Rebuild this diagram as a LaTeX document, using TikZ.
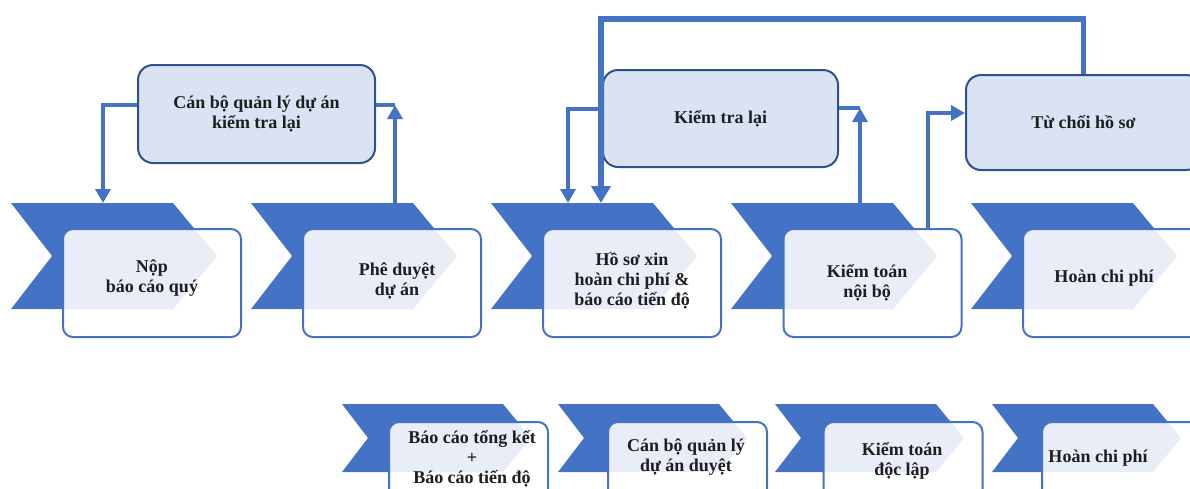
\documentclass[tikz,border=0pt]{standalone}
\usepackage{fontspec}
\setmainfont{Liberation Serif}
\usetikzlibrary{arrows.meta}
\definecolor{chevblue}{HTML}{4472C4}
\definecolor{darkblue}{HTML}{2F528F}
\definecolor{paleblue}{HTML}{DAE3F3}
\definecolor{txt}{HTML}{1E1E1E}
\newcommand{\boxfont}{\fontsize{18}{20}\selectfont\bfseries}
\begin{document}
\begin{tikzpicture}[x=1pt,y=-1pt,
  chev/.style={fill=chevblue,draw=none},
  stepbox/.style={draw=chevblue,line width=2pt,rounded corners=10pt,fill=white,fill opacity=0.88,
    minimum width=178pt,minimum height=108pt,inner sep=0pt},
  smallbox/.style={stepbox,minimum width=159pt,minimum height=90pt},
  topbox/.style={draw=darkblue,line width=2pt,rounded corners=15pt,fill=paleblue,
    minimum width=235pt,align=center,font=\boxfont,text=txt,inner sep=0pt},
  lbl/.style={align=center,font=\boxfont,text=txt,inner sep=0pt},
  conn/.style={draw=chevblue,line width=4pt},
  arr/.style={conn,-{Triangle[width=15pt,length=14pt]}},
  bigarr/.style={draw=chevblue,line width=5.5pt,-{Triangle[width=19pt,length=17pt]}}]
\useasboundingbox (0,0) rectangle (1190,488);
\clip (0,0) rectangle (1190,488);
% top row chevrons
\foreach \x in {11,251,491,731,971}{
  \fill[chev] (\x,203) -- ++(162,0) -- ++(44,53) -- ++(-44,53) -- ++(-162,0) -- ++(41,-53) -- cycle;
}
% bottom row chevrons
\foreach \x in {342,558,775,992}{
  \fill[chev] (\x,404) -- ++(161,0) -- ++(28,34) -- ++(-28,34) -- ++(-161,0) -- ++(26,-34) -- cycle;
}
% top row step boxes
\node[stepbox] (s1) at (152,283) {};
\node[stepbox] (s2) at (392,283) {};
\node[stepbox] (s3) at (632,283) {};
\node[stepbox] (s4) at (872.5,283) {};
\node[stepbox] (s5) at (1112,283) {};
\node[lbl] (t1) at (152,278) {Nộp\\báo cáo quý};
\node[lbl] (t2) at (397,281) {Phê duyệt\\dự án};
\node[lbl] (t3) at (632,281) {Hồ sơ xin\\hoàn chi phí \&\\báo cáo tiến độ};
\node[lbl] (t4) at (867,283) {Kiểm toán\\nội bộ};
\node[lbl] (t5) at (1104,278) {Hoàn chi phí};
% bottom row step boxes
\node[smallbox] (b1) at (468.5,467) {};
\node[smallbox] (b2) at (687.5,467) {};
\node[smallbox] (b3) at (903,467) {};
\node[smallbox] (b4) at (1121.5,467) {};
\node[lbl] (u1) at (472,459) {Báo cáo tổng kết\\+\\Báo cáo tiến độ};
\node[lbl] (u2) at (686,457) {Cán bộ quản lý\\dự án duyệt};
\node[lbl] (u3) at (902,461) {Kiểm toán\\độc lập};
\node[lbl] (u4) at (1098,458) {Hoàn chi phí};
% upper boxes
\node[topbox,minimum width=237pt,minimum height=98pt] (cb) at (256.5,114) {Cán bộ quản lý dự án\\kiểm tra lại};
\node[topbox,minimum height=97pt] (ktl) at (720.5,118.5) {Kiểm tra lại};
\node[topbox,minimum height=95pt] (tc) at (1083.5,122.5) {Từ chối hồ sơ};
% connector end points on the chevrons
\coordinate (e1) at (103,203);
\coordinate (e2) at (395,203);
\coordinate (k2) at (395,105);
\coordinate (e3) at (568,203);
\coordinate (e4) at (860,203);
\coordinate (k4) at (860,108);
\coordinate (e5) at (601,203);
% connectors
\draw[arr] ([yshift=9pt]cb.west) -| (e1);
\draw[conn] ([yshift=9pt]cb.east) -- (k2);
\draw[arr] (e2) -- (k2);
\draw[arr] ([yshift=9.5pt]ktl.west) -| (e3);
\draw[conn] ([yshift=10.5pt]ktl.east) -- (k4);
\draw[arr] (e4) -- (k4);
\draw[arr] ([xshift=55.5pt]s4.north) |- ([yshift=9.5pt]tc.west);
\draw[bigarr] (tc.north) -- ++(0,-55) -| (e5);
\end{tikzpicture}
\end{document}
